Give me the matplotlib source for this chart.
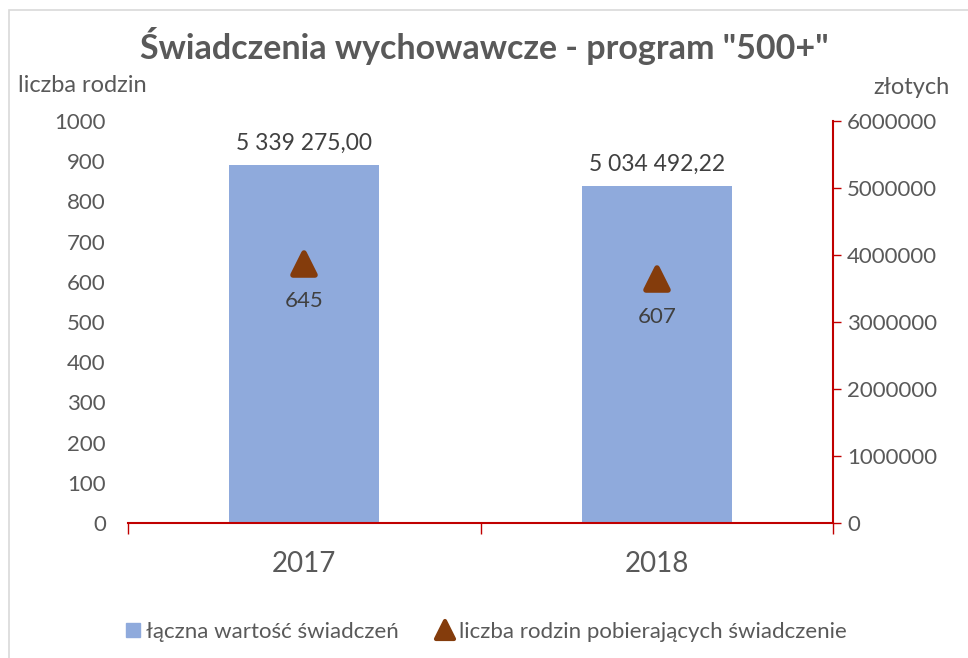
import numpy as np
import matplotlib.pyplot as plt
from matplotlib.patches import Rectangle
from matplotlib.lines import Line2D
from matplotlib.markers import MarkerStyle
from matplotlib.ticker import FuncFormatter

# dane
lata = ['2017', '2018']
wartosc_swiadczen = [5339275.00, 5034492.22]
liczba_rodzin = [645, 607]
etykiety_wartosci = ['5 339 275,00', '5 034 492,22']

plt.rcParams['font.family'] = ['Lato', 'DejaVu Sans']
szary = '#595959'
czerwony = '#C00000'
brazowy = '#843C0C'

fig = plt.figure(figsize=(9.68, 6.58), dpi=100)

# ramka wykresu
fig.patches.append(Rectangle((9 / 968, -0.01), 1.0, 1 - 10 / 658 + 0.01,
                             transform=fig.transFigure, fill=False,
                             edgecolor='#D9D9D9', linewidth=1.2))

ax = fig.add_axes([128 / 968, 135 / 658, 705 / 968, 402 / 658])
ax2 = ax.twinx()

x = np.arange(len(lata))

# słupki na osi prawej
ax2.bar(x, wartosc_swiadczen, width=0.425, color='#8FAADC', zorder=1)
ax2.set_ylim(0, 6000000)
ax2.set_yticks(np.arange(0, 6000001, 1000000))
ax2.yaxis.set_major_formatter(FuncFormatter(lambda v, p: f'{int(v)}'))
for xi, v, s in zip(x, wartosc_swiadczen, etykiety_wartosci):
    ax2.annotate(s, (xi, v), xytext=(0, 8), textcoords='offset points',
                 ha='center', va='bottom', fontsize=16.5, color='#404040')

# trójkąty na osi lewej
trojkat = MarkerStyle('^', joinstyle='round')
ax.set_zorder(ax2.get_zorder() + 1)
ax.patch.set_visible(False)
ax.plot(x, liczba_rodzin, linestyle='none', marker=trojkat, markersize=16,
        color=brazowy, markeredgewidth=4, markeredgecolor=brazowy)
for xi, v in zip(x, liczba_rodzin):
    ax.annotate(str(v), (xi, v), xytext=(0, -20), textcoords='offset points',
                ha='center', va='top', fontsize=16, color='#404040')

ax.set_xlim(-0.5, 1.5)
ax.set_ylim(0, 1000)
ax.set_yticks(np.arange(0, 1001, 100))
ax.set_xticks(x)
ax.set_xticklabels(lata, fontsize=20, color=szary)
ax.set_xticks([-0.5, 0.5, 1.5], minor=True)
ax.tick_params(axis='x', which='major', length=0, pad=20)
ax.tick_params(axis='x', which='minor', length=8, color=czerwony, width=1)
ax.tick_params(axis='y', length=0, pad=16, labelsize=16, labelcolor=szary)

for a in (ax, ax2):
    for s in ('top', 'left', 'right', 'bottom'):
        a.spines[s].set_visible(False)

ax.spines['bottom'].set_visible(True)
ax.spines['bottom'].set_color(czerwony)
ax.spines['bottom'].set_linewidth(1.5)
ax2.spines['right'].set_visible(True)
ax2.spines['right'].set_color(czerwony)
ax2.spines['right'].set_linewidth(1.5)
ax2.tick_params(axis='y', length=6, width=1, color=czerwony, pad=4,
                labelsize=16, labelcolor=szary)

fig.text(0.5, 1 - 46 / 658, 'Świadczenia wychowawcze - program "500+"',
         ha='center', va='center', fontsize=24.5, fontweight='bold', color=szary)
fig.text(18 / 968, 1 - 85 / 658, 'liczba rodzin', ha='left', va='center',
         fontsize=17, color=szary)
fig.text(950 / 968, 1 - 87 / 658, 'złotych', ha='right', va='center',
         fontsize=17, color=szary)

uchwyty = [
    Line2D([], [], linestyle='none', marker='s', markersize=10, color='#8FAADC'),
    Line2D([], [], linestyle='none', marker=trojkat, markersize=13,
           markeredgewidth=3, color=brazowy),
]
fig.legend(uchwyty, ['łączna wartość świadczeń', 'liczba rodzin pobierających świadczenie'],
           loc='center', bbox_to_anchor=(0.5, 1 - 632 / 658), ncol=2, frameon=False,
           fontsize=16, labelcolor=szary, handletextpad=0.1, columnspacing=1.6,
           handlelength=1.0)

fig.savefig('out.png', dpi=100)
